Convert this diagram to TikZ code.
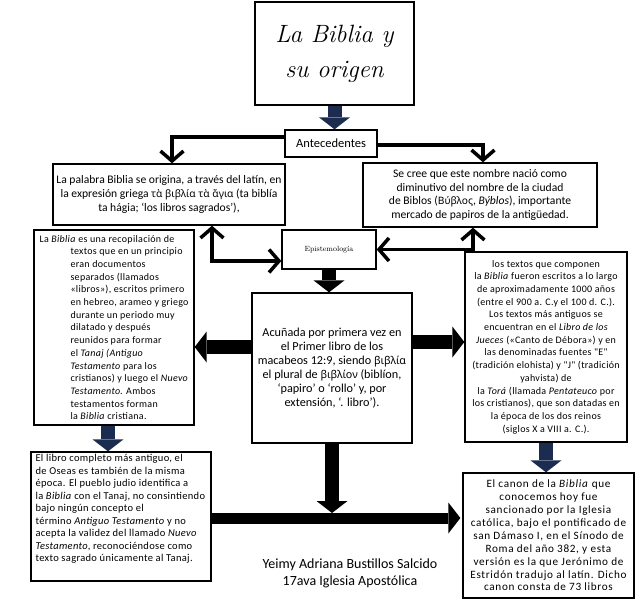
\documentclass[tikz,border=0pt]{standalone}
\usepackage{fontspec}
\usetikzlibrary{arrows.meta,calc}
\newfontfamily\calib{Carlito}
\newfontfamily\calibB{Carlito}[LetterSpace=3]
\newfontfamily\calibC{Carlito}[LetterSpace=6]
\newfontfamily\grk{Noto Sans}[Scale=0.88]
\definecolor{navyc}{RGB}{28,44,80}
\begin{document}
\begin{tikzpicture}[x=1pt,y=-1pt,
  box/.style={draw, line width=1.3pt, inner sep=0pt, align=center},
  conn/.style={line width=3.5pt, -{Straight Barb[length=10pt,width=23pt]}},
  conntwo/.style={line width=3.5pt, {Straight Barb[length=10pt,width=23pt]}-{Straight Barb[length=10pt,width=23pt]}},
  blk/.style={line width=14pt, -{Triangle[width=31pt,length=12pt,line width=0pt]}},
  navy/.style={blk, draw=navyc},
  txta/.style={font=\calib\fontsize{11.6}{13.8}\selectfont},
  txtb/.style={font=\calibB\fontsize{10}{12.7}\selectfont},
  txtc/.style={font=\calibC\fontsize{11.2}{12.9}\selectfont}
]
\useasboundingbox[fill=white] (0,0) rectangle (638,603);

% boxes
\node[box, minimum width=159pt, minimum height=103pt,
      font=\itshape\fontsize{25}{35}\selectfont] (title) at (334.5,53.5) {La Biblia y\\su origen};
\node[box, font=\calib\fontsize{12.5}{14}\selectfont, minimum width=92pt, minimum height=27pt] (antec) at (331,143.5) {Antecedentes};
\node[box, txta, minimum width=232pt, minimum height=61pt] (palabra) at (169,194.5)
 {La palabra Biblia se origina, a través del latín, en\\
  la expresión griega {\grk τὰ βιβλία τὰ ἅγια} (ta biblía\\
  ta hágia; ‘los libros sagrados’),};
\node[box, txta, minimum width=234pt, minimum height=64pt] (secree) at (480,195)
 {Se cree que este nombre nació como\\
  diminutivo del nombre de la ciudad\\
  de Biblos ({\grk Βύβλος}, \textit{Býblos}), importante\\
  mercado de papiros de la antigüedad.};
\node[box, minimum width=94pt, minimum height=39pt, font=\fontsize{7.5}{8}\selectfont] (episte) at (329,249.5) {Epistemología};
\node[box, txtb, align=left, minimum width=160pt, minimum height=195pt] (recop) at (114,327.5)
 {La \textit{Biblia} es una recopilación de\\
  \hspace*{31pt}textos que en un principio\\
  \hspace*{31pt}eran documentos\\
  \hspace*{31pt}separados (llamados\\
  \hspace*{31pt}«libros»), escritos primero\\
  \hspace*{31pt}en hebreo, arameo y griego\\
  \hspace*{31pt}durante un periodo muy\\
  \hspace*{31pt}dilatado y después\\
  \hspace*{31pt}reunidos para formar\\
  \hspace*{31pt}el \textit{Tanaj (Antiguo}\\
  \hspace*{31pt}\textit{Testamento} para los\\
  \hspace*{31pt}cristianos) y luego el \textit{Nuevo}\\
  \hspace*{31pt}\textit{Testamento}. Ambos\\
  \hspace*{31pt}testamentos forman\\
  \hspace*{31pt}la \textit{Biblia} cristiana.};
\node[box, font=\calib\fontsize{12.2}{14.1}\selectfont, minimum width=160pt, minimum height=150pt] (acun) at (332,368)
 {Acuñada por primera vez en\\
  el Primer libro de los\\
  macabeos 12:9, siendo {\grk βιβλία}\\
  el plural de {\grk βιβλίον} (biblíon,\\
  ‘papiro’ o ‘rollo’ y, por\\
  extensión, ‘. libro’).};
\node[box, txtb, minimum width=162pt, minimum height=190pt] (textos) at (546,347)
 {los textos que componen\\
  la \textit{Biblia} fueron escritos a lo largo\\
  de aproximadamente 1000 años\\
  (entre el 900 a. C.y el 100 d. C.).\\
  Los textos más antiguos se\\
  encuentran en el \textit{Libro de los}\\
  \textit{Jueces} («Canto de Débora») y en\\
  las denominadas fuentes "E"\\
  (tradición elohista) y "J" (tradición\\
  yahvista) de\\
  la \textit{Torá} (llamada \textit{Pentateuco} por\\
  los cristianos), que son datadas en\\
  la época de los dos reinos\\
  (siglos X a VIII a. C.).};
\node[box, minimum width=180pt, minimum height=129pt] (libro) at (121,516.5) {};
\node[font=\calibB\fontsize{10.5}{12.5}\selectfont, align=left, anchor=north west, inner sep=0pt] (librotxt) at ([xshift=5pt,yshift=-3pt]libro.north west)
 {El libro completo más antiguo, el\\
  de Oseas es también de la misma\\
  época. El pueblo judio identifica a\\
  la \textit{Biblia} con el Tanaj, no consintiendo\\
  bajo ningún concepto el\\
  término \textit{Antiguo Testamento} y no\\
  acepta la validez del llamado \textit{Nuevo}\\
  \textit{Testamento}, reconociéndose como\\
  texto sagrado únicamente al Tanaj.};
\node[box, txtc, minimum width=171pt, minimum height=125pt] (canon) at (548.5,535.5)
 {El canon de la \textit{Biblia} que\\
  conocemos hoy fue\\
  sancionado por la Iglesia\\
  católica, bajo el pontificado de\\
  san Dámaso I, en el Sínodo de\\
  Roma del año 382, y esta\\
  versión es la que Jerónimo de\\
  Estridón tradujo al latín. Dicho\\
  canon consta de 73 libros};
\node[align=center, font=\calib\fontsize{14}{17}\selectfont] (autor) at (350,573.5)
 {Yeimy Adriana Bustillos Salcido\\17ava Iglesia Apostólica};

% connectors
\draw[navy] (title.south) -- (title.south |- antec.north);
\draw[conn] ([yshift=6.5pt]antec.west) -| ([xshift=3pt]palabra.north);
\draw[conn] ([yshift=-1.5pt]antec.east) -| ([xshift=3pt]secree.north);
\draw[conntwo] ([xshift=43pt]palabra.south) |- ([yshift=-11.5pt]episte.west);
\draw[conntwo] ([xshift=-7pt]secree.south) |- (episte.east);
\draw[blk] (episte.south) -- (episte.south |- acun.north);
\draw[blk] ([yshift=21pt]acun.west) -- ([yshift=21pt]acun.west -| recop.east);
\draw[blk] ([yshift=26pt]acun.east) -- ([yshift=26pt]acun.east -| textos.west);
\draw[navy] ([xshift=-6pt]recop.south) -- ([xshift=-6pt]recop.south |- libro.north);
\draw[navy] (textos.south) -- (textos.south |- canon.north);
\coordinate (meet) at (332,513);
\draw[blk] (acun.south) -- (meet);
\draw[blk, line width=11pt] ([yshift=-1.5pt]libro.east) -- ([yshift=-1.5pt,xshift=-2pt]libro.east -| canon.west);
\end{tikzpicture}
\end{document}
